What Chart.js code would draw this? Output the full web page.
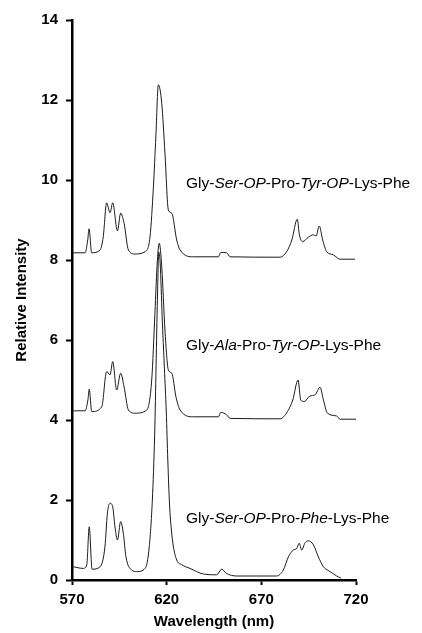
<!DOCTYPE html>
<html>
<head>
<meta charset="utf-8">
<script src="https://cdn.jsdelivr.net/npm/chart.js@4/dist/chart.umd.min.js"></script>
<style>
    html, body { margin: 0; padding: 0; background: #fff; }
    #wrap { width: 422px; height: 633px; }
</style>
</head>
<body>
<div id="wrap"><canvas id="spectra"></canvas></div>
<script>
// emission spectra (wavelength nm / relative intensity, offset traces)
const serTyrWl = [570.7, 576.9, 578.3, 579.0, 580.4, 584.8, 586.5, 588.3, 590.1, 591.5, 594.0, 595.7, 597.5, 599.8, 603.3, 608.6, 611.2, 613.0, 614.3, 615.6, 617.4, 619.1, 620.9, 622.7, 625.3, 627.1, 634.1, 647.3, 648.6, 651.7, 653.5, 679.9, 683.4, 686.1, 689.0, 690.1, 691.8, 694.8, 697.5, 698.9, 700.6, 702.4, 704.5, 708.0, 711.6, 719.5];
const serTyrInt = [8.18, 8.18, 8.5, 8.78, 8.18, 8.25, 8.58, 9.43, 9.18, 9.43, 8.73, 9.17, 8.92, 8.25, 8.15, 8.21, 8.58, 9.83, 11.1, 12.38, 11.92, 10.67, 9.25, 9.17, 8.50, 8.25, 8.08, 8.08, 8.19, 8.18, 8.08, 8.07, 8.21, 8.50, 9.02, 8.63, 8.46, 8.57, 8.63, 8.60, 8.85, 8.50, 8.21, 8.13, 8.02, 8.02];

const alaTyrWl = [570.7, 576.9, 578.4, 579.1, 580.4, 585.7, 588.3, 590.1, 591.5, 593.6, 595.7, 597.5, 599.8, 603.3, 609.5, 612.1, 613.8, 615.1, 616.1, 617.4, 619.1, 620.9, 622.7, 624.9, 627.1, 634.1, 647.3, 648.6, 651.7, 653.5, 679.9, 683.8, 686.6, 689.4, 690.8, 692.6, 695.7, 698.4, 701.0, 702.8, 704.9, 709.8, 711.6, 720.0];
const alaTyrInt = [4.23, 4.23, 4.5, 4.77, 4.21, 4.33, 5.21, 5.13, 5.46, 4.75, 5.17, 4.83, 4.25, 4.17, 4.25, 5.0, 6.67, 8.0, 8.42, 7.83, 6.25, 5.25, 5.17, 4.58, 4.25, 4.08, 4.08, 4.19, 4.13, 4.04, 4.03, 4.21, 4.5, 5.0, 4.5, 4.46, 4.6, 4.63, 4.82, 4.5, 4.17, 4.1, 4.02, 4.02];

const serPheWl = [570.7, 576.0, 577.8, 579.1, 580.6, 584.8, 587.4, 588.7, 590.1, 591.5, 592.7, 594.0, 595.7, 597.1, 598.5, 601.5, 604.2, 608.6, 610.8, 612.6, 613.8, 614.5, 615.2, 615.8, 616.6, 617.6, 618.8, 619.8, 620.6, 621.5, 622.5, 623.5, 625.3, 628.0, 632.3, 639.4, 646.4, 649.1, 651.4, 657.0, 667.6, 678.1, 681.6, 684.3, 686.9, 688.7, 690.0, 691.3, 693.1, 694.8, 697.5, 700.1, 702.8, 706.3, 709.8, 712.0];
const serPheInt = [0.33, 0.29, 0.38, 1.33, 0.27, 0.33, 0.83, 1.67, 1.92, 1.83, 1.33, 1.0, 1.46, 1.17, 0.58, 0.25, 0.21, 0.29, 0.83, 2.17, 3.9, 5.6, 7.2, 8.2, 7.9, 6.6, 5.3, 4.2, 3.0, 1.9, 1.25, 0.85, 0.5, 0.38, 0.29, 0.15, 0.13, 0.27, 0.17, 0.1, 0.1, 0.1, 0.25, 0.58, 0.75, 0.79, 0.92, 0.75, 0.93, 0.98, 0.88, 0.58, 0.33, 0.21, 0.1, 0.05];

// trace labels, *...* = italic
const labelTexts = ["Gly-*Ser-OP*-Pro-*Tyr-OP*-Lys-Phe", "Gly-*Ala*-Pro-*Tyr-OP*-Lys-Phe", "Gly-*Ser-OP*-Pro-*Phe*-Lys-Phe"];
const labelWl = [630.2, 630.2, 630.2];
const labelInt = [9.9, 5.85, 1.53];

const xTicks = [570, 620, 670, 720];
const yTicks = [0, 2, 4, 6, 8, 10, 12, 14];

const FONT = "'Liberation Sans', Arial, sans-serif";

function toPoints(xs, ys) {
    return xs.map((x, i) => ({ x, y: ys[i] }));
}

const traceLabels = {
    id: "traceLabels",
    afterDatasetsDraw(chart) {
        const { ctx, scales } = chart;
        ctx.save();
        ctx.fillStyle = "#000";
        ctx.textBaseline = "middle";
        labelTexts.forEach((txt, i) => {
            let x = scales.x.getPixelForValue(labelWl[i]);
            const y = scales.y.getPixelForValue(labelInt[i]);
            txt.split("*").forEach((part, j) => {
                ctx.font = (j % 2 ? "italic " : "") + "15.5px " + FONT;
                ctx.fillText(part, x, y);
                x += ctx.measureText(part).width;
            });
        });
        ctx.restore();
    }
};

function lineSet(label, xs, ys) {
    return {
        label,
        data: toPoints(xs, ys),
        borderColor: "#1a1a1a",
        borderWidth: 1,
        pointRadius: 0,
        cubicInterpolationMode: "monotone",
        fill: false
    };
}

new Chart(document.getElementById("spectra"), {
    type: "line",
    data: {
        datasets: [
            lineSet("Gly-Ser-OP-Pro-Tyr-OP-Lys-Phe", serTyrWl, serTyrInt),
            lineSet("Gly-Ala-Pro-Tyr-OP-Lys-Phe", alaTyrWl, alaTyrInt),
            lineSet("Gly-Ser-OP-Pro-Phe-Lys-Phe", serPheWl, serPheInt)
        ]
    },
    options: {
        responsive: true,
        maintainAspectRatio: false,
        animation: false,
        layout: { padding: { top: 20, right: 66, left: 0, bottom: 0 } },
        plugins: {
            legend: { display: false },
            tooltip: { enabled: false }
        },
        scales: {
            x: {
                type: "linear",
                min: 570,
                max: 720,
                afterBuildTicks: (s) => { s.ticks = xTicks.map(v => ({ value: v })); },
                afterFit: (s) => { s.height = 53; },
                grid: { display: true, drawOnChartArea: false, tickLength: 5, tickColor: "#000", tickWidth: 2 },
                border: { display: true, color: "#000", width: 2.5 },
                ticks: { color: "#000", padding: 6, font: { family: FONT, size: 15, weight: "bold" } },
                title: {
                    display: true,
                    text: "Wavelength (nm)",
                    color: "#000",
                    padding: { top: 0, bottom: 2 },
                    font: { family: FONT, size: 15, weight: "bold" }
                }
            },
            y: {
                min: 0,
                max: 14,
                afterBuildTicks: (s) => { s.ticks = yTicks.map(v => ({ value: v })); },
                afterFit: (s) => { s.width = 72; },
                grid: { display: true, drawOnChartArea: false, tickLength: 6, tickColor: "#000", tickWidth: 2 },
                border: { display: true, color: "#000", width: 2.5 },
                ticks: { color: "#000", padding: 8, font: { family: FONT, size: 15, weight: "bold" } },
                title: {
                    display: true,
                    text: "Relative Intensity",
                    color: "#000",
                    padding: { top: 13, bottom: 0 },
                    font: { family: FONT, size: 15, weight: "bold" }
                }
            }
        }
    },
    plugins: [traceLabels]
});
</script>
</body>
</html>
